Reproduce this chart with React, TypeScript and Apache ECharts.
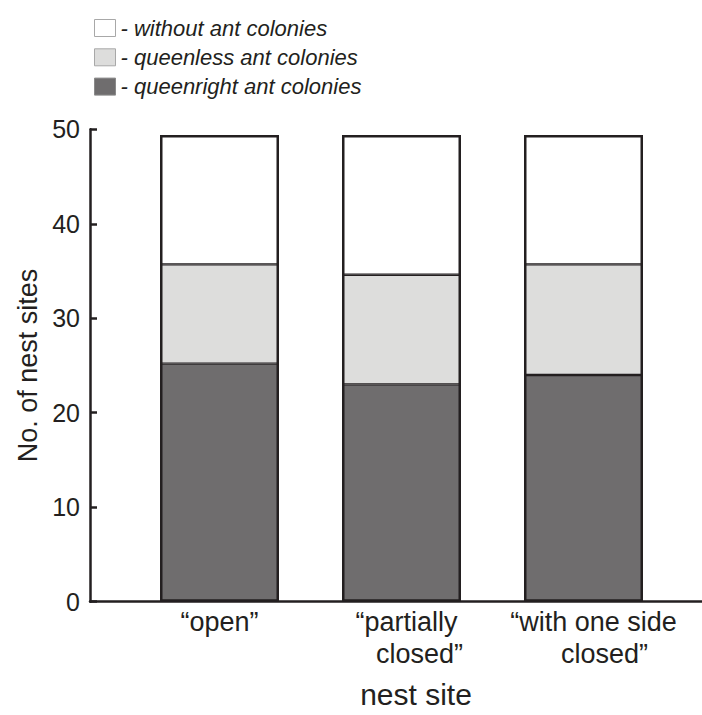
import React, { useEffect, useRef } from "react";
import * as echarts from "echarts";

const categories = ["“open”", "“partially\nclosed”", "“with one side\nclosed”"];
const seriesNames = ["without ant colonies", "queenless ant colonies", "queenright ant colonies"];
const queenright = [25.2, 23.0, 24.0];
const queenless = [10.5, 11.6, 11.7];
const withoutAnts = [13.7, 14.8, 13.7];
const yMin = 0;
const yMax = 50;
const yInterval = 10;

const FONT = "'Liberation Sans', Arial, Helvetica, sans-serif";
const INK = "#231f20";
const DARK = "#6f6d6e";
const LIGHT = "#dddddc";

const labelStyles = [
  ["c0", "c0"],
  ["p1", "p2"],
  ["w1", "w2"],
];

export default function App() {
  const ref = useRef<HTMLDivElement>(null);
  useEffect(() => {
    if (!ref.current) return;
    const chart = echarts.init(ref.current, undefined, { renderer: "svg" });
    const totals = queenright.map((v, i) => v + queenless[i] + withoutAnts[i]);
    const top = 129.3;
    const bottom = 715 - 601.7;
    chart.setOption({
      animation: false,
      backgroundColor: "#ffffff",
      legend: {
        orient: "vertical",
        left: 89,
        top: 12,
        itemWidth: 21,
        itemHeight: 17,
        itemGap: 7.3,
        icon: "rect",
        selectedMode: false,
        formatter: "- {name}",
        textStyle: {
          fontFamily: FONT,
          fontStyle: "italic",
          fontSize: 22,
          lineHeight: 17,
          color: INK,
        },
        data: [
          { name: seriesNames[0], itemStyle: { color: "#ffffff", borderColor: "#a8a8a8", borderWidth: 1 } },
          { name: seriesNames[1], itemStyle: { color: LIGHT, borderColor: "#a8a8a8", borderWidth: 1 } },
          { name: seriesNames[2], itemStyle: { color: DARK, borderColor: "#8a8a8a", borderWidth: 1 } },
        ],
      },
      grid: [
        { left: 128.5, right: 702 - 674.5, top, bottom, containLabel: false, outerBoundsMode: "none" },
        { left: 90, right: 0, top, bottom, containLabel: false, outerBoundsMode: "none" },
      ],
      xAxis: [
        {
          type: "category",
          gridIndex: 0,
          data: categories,
          boundaryGap: true,
          axisLine: { show: false },
          axisTick: { show: false },
          splitLine: { show: false },
          name: "nest site",
          nameLocation: "middle",
          nameGap: 81,
          nameTextStyle: {
            fontFamily: FONT,
            fontSize: 30,
            lineHeight: 24,
            color: INK,
            padding: [0, 0, 0, 29],
          },
          axisLabel: {
            interval: 0,
            margin: 5,
            fontFamily: FONT,
            fontSize: 27,
            lineHeight: 31.6,
            color: INK,
            formatter: (value: string, index: number) => {
              const lines = value.split("\n");
              const st = labelStyles[index] || ["c0", "c0"];
              return lines.map((l, k) => `{${st[k] || "c0"}|${l}}`).join("\n");
            },
            rich: {
              c0: { fontFamily: FONT, fontSize: 27, lineHeight: 31.6, color: INK },
              p1: { fontFamily: FONT, fontSize: 27, lineHeight: 31.6, color: INK, padding: [0, 0, 0, 10] },
              p2: { fontFamily: FONT, fontSize: 27, lineHeight: 31.6, color: INK, padding: [0, 0, 0, 36] },
              w1: { fontFamily: FONT, fontSize: 27, lineHeight: 31.6, color: INK, padding: [0, 0, 0, 20] },
              w2: { fontFamily: FONT, fontSize: 27, lineHeight: 31.6, color: INK, padding: [0, 0, 0, 42] },
            },
          },
        },
        {
          type: "value",
          gridIndex: 1,
          min: 0,
          max: 1,
          axisLine: { show: true, lineStyle: { color: INK, width: 2.5 } },
          axisTick: { show: false },
          axisLabel: { show: false },
          splitLine: { show: false },
        },
      ],
      yAxis: [
        {
          type: "value",
          gridIndex: 0,
          min: yMin,
          max: yMax,
          interval: yInterval,
          show: false,
        },
        {
          type: "value",
          gridIndex: 1,
          min: yMin,
          max: yMax,
          interval: yInterval,
          axisLine: { show: true, lineStyle: { color: INK, width: 2.5 } },
          axisTick: { show: true, inside: true, length: 7, lineStyle: { color: INK, width: 2.5 } },
          splitLine: { show: false },
          axisLabel: {
            margin: 10,
            fontFamily: FONT,
            fontSize: 25,
            color: INK,
          },
          name: "No. of nest sites",
          nameLocation: "middle",
          nameGap: 49,
          nameTextStyle: {
            fontFamily: FONT,
            fontSize: 27,
            color: INK,
          },
        },
      ],
      series: [
        {
          name: seriesNames[2],
          type: "bar",
          stack: "total",
          xAxisIndex: 0,
          yAxisIndex: 0,
          barWidth: 119,
          data: queenright,
          itemStyle: { color: DARK, borderColor: INK, borderWidth: 1.2 },
        },
        {
          name: seriesNames[1],
          type: "bar",
          stack: "total",
          xAxisIndex: 0,
          yAxisIndex: 0,
          barWidth: 119,
          data: queenless,
          itemStyle: { color: LIGHT, borderColor: INK, borderWidth: 1.2 },
        },
        {
          name: seriesNames[0],
          type: "bar",
          stack: "total",
          xAxisIndex: 0,
          yAxisIndex: 0,
          barWidth: 119,
          data: withoutAnts,
          itemStyle: { color: "#ffffff", borderColor: INK, borderWidth: 1.2 },
        },
        {
          name: "outline",
          type: "bar",
          xAxisIndex: 0,
          yAxisIndex: 0,
          barWidth: 119,
          barGap: "-100%",
          z: 5,
          silent: true,
          data: totals,
          itemStyle: { color: "rgba(0,0,0,0)", borderColor: INK, borderWidth: 2.5 },
        },
      ],
    });
    return () => chart.dispose();
  }, []);
  return (
    <div
      ref={ref}
      style={{ position: "absolute", left: 0, top: 0, width: 702, height: 715 }}
    />
  );
}
